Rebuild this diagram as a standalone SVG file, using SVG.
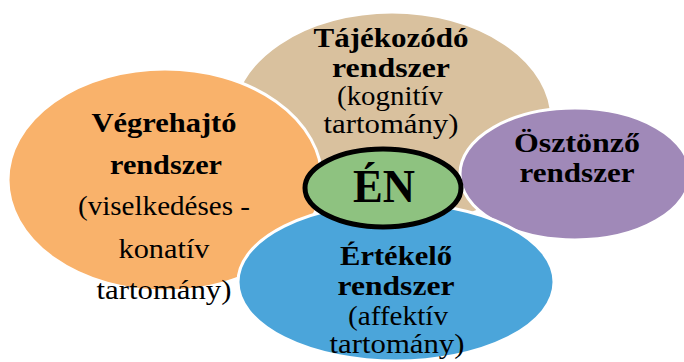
<svg xmlns="http://www.w3.org/2000/svg" width="684" height="362" viewBox="0 0 684 362">
<style>
.shape{stroke:#fff;stroke-width:3}
text{font-family:"Liberation Serif","DejaVu Serif","Times New Roman",serif;fill:#000;text-anchor:middle}
.b{font-weight:bold;font-size:28px}
.r{font-size:27px}
</style>
<rect width="684" height="362" fill="#fff"/>
<g id="tajekozodo">
<ellipse class="shape" cx="392" cy="120" rx="160" ry="108" fill="#D9C19E"/>
<text class="b" x="391" y="47" textLength="155" lengthAdjust="spacingAndGlyphs">Tájékozódó</text>
<text class="b" x="391" y="77" textLength="118" lengthAdjust="spacingAndGlyphs">rendszer</text>
<text class="r" x="390" y="105" textLength="106" lengthAdjust="spacingAndGlyphs">(kognitív</text>
<text class="r" x="391" y="133" textLength="135" lengthAdjust="spacingAndGlyphs">tartomány)</text>
</g>
<g id="vegrehajto">
<ellipse class="shape" cx="165" cy="180" rx="157" ry="111" fill="#F9B26B"/>
<text class="b" x="164" y="132" textLength="145" lengthAdjust="spacingAndGlyphs">Végrehajtó</text>
<text class="b" x="166" y="174" textLength="112" lengthAdjust="spacingAndGlyphs">rendszer</text>
<text class="r" x="164" y="215" textLength="172" lengthAdjust="spacingAndGlyphs">(viselkedéses -</text>
<text class="r" x="164" y="258" textLength="91" lengthAdjust="spacingAndGlyphs">konatív</text>
<text class="r" x="164" y="299" textLength="135" lengthAdjust="spacingAndGlyphs">tartomány)</text>
</g>
<g id="osztonzo">
<ellipse class="shape" cx="575" cy="174" rx="115" ry="66" fill="#A089B8"/>
<text class="b" x="577" y="152" textLength="126" lengthAdjust="spacingAndGlyphs">Ösztönző</text>
<text class="b" x="577" y="182" textLength="115" lengthAdjust="spacingAndGlyphs">rendszer</text>
</g>
<g id="ertekelo">
<ellipse class="shape" cx="396" cy="282" rx="158" ry="79" fill="#4BA5DA"/>
<text class="b" x="396" y="265" textLength="112" lengthAdjust="spacingAndGlyphs">Értékelő</text>
<text class="b" x="396" y="295" textLength="117" lengthAdjust="spacingAndGlyphs">rendszer</text>
<text class="r" x="398" y="325" textLength="100" lengthAdjust="spacingAndGlyphs">(affektív</text>
<text class="r" x="397" y="353" textLength="135" lengthAdjust="spacingAndGlyphs">tartomány)</text>
</g>
<g id="en">
<ellipse cx="383" cy="188" rx="78" ry="39" fill="#8EC280" stroke="#000" stroke-width="5"/>
<text x="384" y="202" font-size="46" font-weight="bold" textLength="62" lengthAdjust="spacingAndGlyphs">ÉN</text>
</g>
<g id="connectors"></g>
</svg>
